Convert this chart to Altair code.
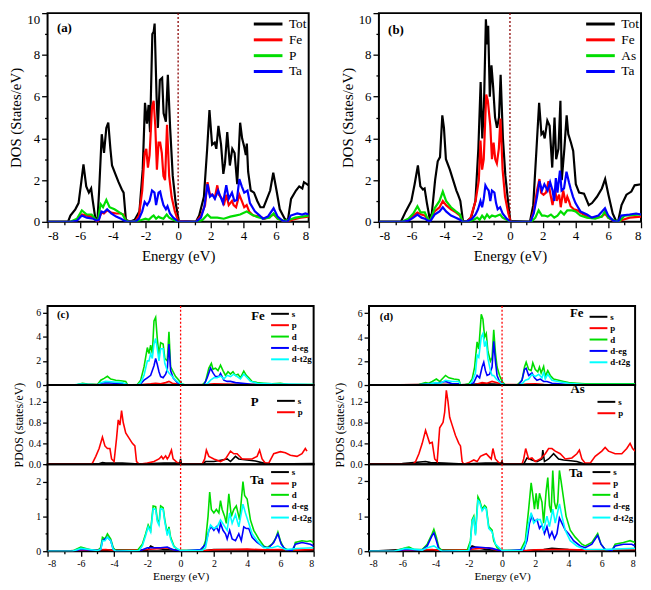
import altair as alt
import pandas as pd

FONT = "Liberation Serif"
BLACK, RED, GREEN, BLUE, CYAN = "#000000", "#ff0000", "#00dd00", "#0000ff", "#00ffff"

fermi = [0]

# ---------------- (a) total DOS, FeTaP ----------------
a_tot = [(-8,0),(-6.75,0),(-6.6,0.3),(-6.3,0.6),(-6.1,0.9),(-5.92,2.0),(-5.8,2.75),(-5.63,1.7),(-5.47,1.4),(-5.33,1.6),(-5.23,1.0),(-5.08,0.2),(-4.94,0.1),(-4.84,1.5),(-4.68,4.2),(-4.54,3.3),(-4.4,4.5),(-4.28,4.75),(-4.15,3.5),(-4.05,2.7),(-3.85,2.3),(-3.65,1.9),(-3.45,1.55),(-3.34,1.4),(-3.2,0.1),(-2.96,0),(-2.66,0.1),(-2.37,0.5),(-2.17,2.5),(-2.03,5.7),(-1.91,4.7),(-1.81,5.6),(-1.72,4.3),(-1.58,9.0),(-1.5,9.1),(-1.44,9.5),(-1.32,6.0),(-1.24,4.5),(-1.12,6.8),(-0.98,6.9),(-0.89,5.2),(-0.75,4.8),(-0.63,7.05),(-0.49,4.5),(-0.33,2.2),(-0.15,0.9),(0.04,0.05),(1.09,0),(1.29,0.3),(1.58,1.2),(1.78,3.5),(1.92,5.35),(2.08,3.7),(2.24,3.8),(2.34,3.5),(2.47,4.6),(2.63,3.7),(2.77,2.3),(2.87,2.8),(3.01,4.3),(3.17,2.7),(3.32,3.5),(3.46,3.3),(3.62,1.8),(3.8,4.75),(3.92,4.0),(4.05,3.6),(4.15,3.2),(4.21,3.75),(4.29,2.4),(4.45,1.5),(4.65,1.4),(4.85,1.0),(5.04,0.7),(5.24,0.7),(5.44,1.1),(5.64,1.5),(5.83,2.35),(6.03,1.5),(6.23,0.6),(6.53,0.15),(6.72,0.05),(6.92,1.1),(7.22,1.5),(7.42,1.7),(7.61,1.6),(7.71,1.9),(8.0,1.75)]
a_fe = [(-8,0),(-6.6,0),(-6.2,0.1),(-5.9,0.35),(-5.6,0.3),(-5.3,0.25),(-5.0,0.05),(-4.9,0.05),(-4.7,0.45),(-4.55,0.4),(-4.35,0.55),(-4.1,0.45),(-3.8,0.4),(-3.5,0.4),(-3.35,0.35),(-3.2,0.05),(-3.0,0),(-2.6,0.05),(-2.4,0.3),(-2.2,1.5),(-2.05,3.3),(-1.95,3.5),(-1.85,2.6),(-1.75,3.2),(-1.6,5.5),(-1.5,5.8),(-1.4,4.6),(-1.3,2.5),(-1.2,3.8),(-1.1,3.8),(-1.0,3.3),(-0.9,2.2),(-0.8,2.0),(-0.68,4.65),(-0.55,2.2),(-0.4,1.2),(-0.2,0.5),(0,0.05),(1.1,0),(1.4,0.3),(1.65,0.8),(1.8,1.9),(1.95,1.3),(2.1,1.3),(2.25,1.15),(2.4,1.75),(2.5,1.3),(2.7,1.1),(2.8,0.8),(2.95,1.3),(3.1,0.8),(3.3,1.0),(3.4,0.8),(3.55,0.7),(3.75,1.3),(3.9,1.0),(4.05,0.7),(4.2,0.8),(4.35,0.5),(4.6,0.3),(5.0,0.25),(5.3,0.15),(5.6,0.25),(5.85,0.35),(6.1,0.15),(6.4,0.05),(6.7,0),(7.0,0.1),(7.5,0.2),(8,0.25)]
a_p = [(-8,0),(-6.6,0),(-6.2,0.15),(-5.9,0.55),(-5.6,0.35),(-5.3,0.35),(-5.05,0.1),(-4.9,0.1),(-4.75,0.85),(-4.6,0.7),(-4.4,1.05),(-4.2,0.7),(-3.9,0.6),(-3.6,0.45),(-3.4,0.35),(-3.2,0.05),(-3.0,0),(-2.5,0.03),(-2.2,0.1),(-2.0,0.15),(-1.8,0.1),(-1.6,0.25),(-1.5,0.3),(-1.35,0.15),(-1.2,0.25),(-1.1,0.2),(-0.9,0.15),(-0.7,0.35),(-0.55,0.2),(-0.3,0.1),(0,0),(1.2,0),(1.5,0.1),(1.8,0.35),(2.0,0.2),(2.4,0.2),(2.8,0.15),(3.2,0.25),(3.5,0.3),(3.8,0.35),(4.2,0.5),(4.5,0.35),(4.8,0.25),(5.2,0.15),(5.6,0.2),(5.85,0.4),(6.1,0.15),(6.5,0.05),(6.8,0.1),(7.2,0.2),(8,0.3)]
a_ta = [(-8,0),(-6.6,0),(-6.2,0.05),(-5.9,0.3),(-5.6,0.2),(-5.2,0.15),(-5.0,0.05),(-4.85,0.1),(-4.7,0.5),(-4.55,0.45),(-4.35,0.6),(-4.1,0.4),(-3.8,0.25),(-3.5,0.15),(-3.3,0.05),(-3.1,0),(-2.6,0.02),(-2.4,0.15),(-2.2,0.5),(-2.05,0.95),(-1.9,0.8),(-1.75,1.0),(-1.6,1.5),(-1.45,1.4),(-1.35,0.8),(-1.2,1.4),(-1.1,1.45),(-1.0,1.1),(-0.9,0.8),(-0.75,0.6),(-0.65,0.75),(-0.5,0.4),(-0.3,0.2),(0,0.02),(1.1,0),(1.4,0.2),(1.6,0.7),(1.8,1.8),(1.95,1.2),(2.1,1.3),(2.25,1.1),(2.45,1.5),(2.6,1.2),(2.75,0.9),(2.95,1.75),(3.1,1.1),(3.3,1.4),(3.45,1.0),(3.6,1.05),(3.75,2.05),(3.9,1.7),(4.05,1.4),(4.25,1.5),(4.4,0.9),(4.7,0.5),(5.0,0.3),(5.2,0.15),(5.5,0.25),(5.85,0.65),(6.1,0.25),(6.4,0.05),(6.7,0),(6.9,0.3),(7.3,0.4),(7.6,0.35),(7.8,0.4),(8,0.35)]

# ---------------- (b) total DOS, FeTaAs ----------------
b_tot = [(-8,0),(-6.66,0),(-6.36,0.5),(-6.02,1.0),(-5.82,1.8),(-5.62,2.7),(-5.47,1.7),(-5.31,1.55),(-5.21,1.6),(-5.07,0.9),(-4.91,0.2),(-4.77,0.4),(-4.57,2.0),(-4.41,2.9),(-4.27,3.1),(-4.13,5.1),(-4.03,4.5),(-3.91,3.0),(-3.67,2.5),(-3.47,2.0),(-3.27,1.5),(-3.17,1.3),(-3.03,1.0),(-2.87,0.05),(-2.67,0),(-2.37,0.2),(-2.11,1.0),(-1.93,3.5),(-1.79,6.7),(-1.69,4.0),(-1.59,5.5),(-1.47,9.7),(-1.39,8.5),(-1.33,9.4),(-1.23,6.0),(-1.13,7.5),(-1.03,6.5),(-0.91,5.0),(-0.79,4.5),(-0.67,5.0),(-0.57,7.05),(-0.43,4.0),(-0.28,2.2),(-0.12,1.0),(0.02,0.05),(1.22,0),(1.42,0.8),(1.62,3.5),(1.78,5.7),(1.92,4.2),(2.02,4.3),(2.12,4.0),(2.28,4.85),(2.42,4.6),(2.58,2.6),(2.72,5.0),(2.82,3.0),(2.96,3.5),(3.08,5.8),(3.16,2.0),(3.32,3.5),(3.46,5.1),(3.56,4.2),(3.72,3.8),(3.86,3.4),(4.02,1.8),(4.22,1.4),(4.52,1.35),(4.81,0.8),(5.01,0.9),(5.31,1.2),(5.61,1.6),(5.81,2.05),(6.01,1.3),(6.27,0.4),(6.47,0.05),(6.61,0.05),(6.81,0.8),(7.11,1.3),(7.41,1.45),(7.61,1.75),(8,1.8)]
b_fe = [(-8,0),(-6.6,0),(-6.2,0.1),(-5.9,0.3),(-5.65,0.45),(-5.4,0.35),(-5.2,0.3),(-5.0,0.1),(-4.85,0.1),(-4.6,0.5),(-4.3,0.7),(-4.1,1.0),(-3.9,0.8),(-3.6,0.6),(-3.3,0.45),(-3.05,0.3),(-2.9,0),(-2.6,0.02),(-2.4,0.2),(-2.1,1.0),(-1.9,2.0),(-1.8,3.9),(-1.7,2.5),(-1.6,3.0),(-1.45,6.1),(-1.35,5.8),(-1.2,4.6),(-1.1,3.0),(-1.0,3.8),(-0.9,3.0),(-0.8,2.8),(-0.68,3.5),(-0.58,4.95),(-0.45,2.5),(-0.3,1.2),(-0.1,0.4),(0.05,0),(1.25,0),(1.45,0.5),(1.65,1.5),(1.8,2.05),(1.9,1.4),(2.05,1.3),(2.2,1.4),(2.35,1.95),(2.45,1.4),(2.6,0.8),(2.75,1.6),(2.85,1.0),(3.0,1.3),(3.1,0.7),(3.25,1.5),(3.4,0.9),(3.5,1.2),(3.6,1.0),(3.7,0.75),(3.9,0.6),(4.1,0.55),(4.4,0.4),(4.8,0.2),(5.2,0.2),(5.6,0.25),(5.8,0.4),(6.0,0.2),(6.3,0.05),(6.6,0.02),(6.9,0.1),(7.3,0.2),(8,0.25)]
b_as = [(-8,0),(-6.6,0),(-6.2,0.15),(-5.9,0.4),(-5.65,0.75),(-5.45,0.45),(-5.2,0.45),(-5.0,0.1),(-4.85,0.1),(-4.6,0.65),(-4.3,1.0),(-4.1,1.45),(-3.9,1.0),(-3.6,0.7),(-3.3,0.5),(-3.05,0.35),(-2.9,0),(-2.5,0.02),(-2.2,0.1),(-2.0,0.2),(-1.85,0.1),(-1.7,0.3),(-1.55,0.15),(-1.4,0.35),(-1.25,0.2),(-1.1,0.3),(-0.9,0.25),(-0.75,0.3),(-0.6,0.35),(-0.45,0.2),(-0.2,0.1),(0.05,0),(1.3,0),(1.55,0.2),(1.75,0.55),(1.95,0.3),(2.1,0.3),(2.3,0.25),(2.5,0.35),(2.7,0.2),(2.9,0.3),(3.1,0.5),(3.3,0.35),(3.5,0.55),(3.8,0.55),(4.0,0.5),(4.3,0.3),(4.7,0.2),(5.2,0.15),(5.6,0.25),(5.8,0.5),(6.0,0.2),(6.4,0.05),(6.7,0.05),(7.0,0.3),(8,0.35)]
b_ta = [(-8,0),(-6.6,0),(-6.2,0.05),(-5.9,0.2),(-5.65,0.35),(-5.4,0.2),(-5.2,0.15),(-5.0,0.05),(-4.85,0.05),(-4.6,0.35),(-4.3,0.5),(-4.1,0.7),(-3.9,0.5),(-3.6,0.3),(-3.3,0.2),(-3.05,0.1),(-2.9,0),(-2.6,0.02),(-2.3,0.15),(-2.1,0.35),(-1.95,0.6),(-1.8,1.0),(-1.7,0.7),(-1.6,1.1),(-1.5,1.75),(-1.4,1.6),(-1.3,1.5),(-1.2,1.0),(-1.1,1.5),(-0.95,1.4),(-0.85,0.9),(-0.75,0.6),(-0.6,0.7),(-0.45,0.4),(-0.2,0.15),(0.05,0),(1.25,0),(1.45,0.4),(1.65,1.2),(1.8,1.95),(1.95,1.5),(2.1,1.8),(2.3,1.5),(2.45,1.9),(2.6,1.5),(2.7,1.0),(2.8,2.1),(2.9,1.4),(3.05,2.45),(3.15,1.5),(3.3,1.6),(3.45,2.4),(3.6,1.9),(3.7,1.6),(3.85,1.2),(4.0,0.9),(4.3,0.5),(4.7,0.35),(5.0,0.2),(5.4,0.3),(5.8,0.65),(6.0,0.3),(6.3,0.05),(6.6,0),(6.8,0.3),(7.3,0.35),(7.7,0.4),(8,0.35)]

# ---------------- (c) PDOS FeTaP ----------------
c_fe_s = [(-8,0.02),(-5,0.03),(-3,0.02),(-1.5,0.05),(-0.5,0.05),(-0.05,0.05),(0,0.35),(0.05,0.02),(2,0.05),(5,0.03),(8,0.02)]
c_fe_p = [(-8,0),(-4.5,0.05),(-3,0.01),(-2.4,0.03),(-1.8,0.1),(-1.5,0.15),(-1.2,0.1),(-0.9,0.2),(-0.7,0.3),(-0.5,0.15),(0,0.05),(1.5,0.03),(2.0,0.1),(2.5,0.08),(3.5,0.05),(5,0.03),(8,0.03)]
c_fe_d = [(-8,0),(-6.5,0),(-6.2,0.05),(-5.9,0.15),(-5.6,0.08),(-5.0,0.05),(-4.8,0.4),(-4.6,0.55),(-4.4,0.72),(-4.2,0.5),(-3.9,0.4),(-3.6,0.35),(-3.3,0.3),(-3.2,0.05),(-3.0,0.02),(-2.6,0.05),(-2.4,0.4),(-2.2,1.5),(-2.0,3.1),(-1.9,2.6),(-1.8,3.3),(-1.7,2.6),(-1.6,5.3),(-1.5,5.6),(-1.4,3.8),(-1.3,2.5),(-1.2,3.5),(-1.05,3.4),(-0.95,2.2),(-0.8,2.0),(-0.7,4.4),(-0.6,1.5),(-0.45,1.1),(-0.3,0.7),(-0.1,0.4),(0.05,0.1),(0.3,0),(1.3,0),(1.5,0.3),(1.7,1.4),(1.85,1.8),(1.95,1.3),(2.1,1.4),(2.25,1.2),(2.4,1.65),(2.55,1.2),(2.7,0.8),(2.85,1.1),(3.0,0.9),(3.15,1.1),(3.3,0.8),(3.45,0.9),(3.6,0.6),(3.8,1.15),(3.95,0.8),(4.1,0.6),(4.3,0.3),(4.6,0.2),(5.0,0.15),(5.5,0.1),(6.0,0.15),(6.5,0.05),(7,0.05),(8,0.05)]
c_fe_eg = [(-8,0),(-6.5,0),(-6,0.05),(-5.0,0.02),(-4.8,0.15),(-4.5,0.2),(-4.0,0.15),(-3.3,0.1),(-3.2,0),(-2.6,0),(-2.4,0.1),(-2.2,0.4),(-2.0,0.6),(-1.8,0.8),(-1.6,1.6),(-1.5,2.2),(-1.4,1.7),(-1.3,1.1),(-1.2,0.7),(-1.05,0.6),(-0.9,0.9),(-0.8,1.3),(-0.7,3.4),(-0.6,1.2),(-0.45,0.6),(-0.2,0.2),(0,0.05),(0.3,0),(1.4,0),(1.6,0.6),(1.8,1.4),(1.95,1.0),(2.1,0.7),(2.3,0.7),(2.4,0.95),(2.6,0.4),(2.8,0.3),(3.0,0.3),(3.3,0.2),(4.0,0.1),(4.3,0.05),(8,0.02)]
c_fe_t2g = [(-8,0),(-6.5,0),(-6,0.08),(-5.0,0.02),(-4.8,0.2),(-4.5,0.3),(-4.0,0.25),(-3.5,0.2),(-3.2,0.02),(-2.6,0),(-2.4,0.2),(-2.2,0.8),(-2.0,2.0),(-1.9,2.0),(-1.8,2.6),(-1.7,2.2),(-1.6,3.4),(-1.5,3.85),(-1.4,3.0),(-1.3,2.0),(-1.2,3.0),(-1.05,3.0),(-0.95,1.8),(-0.8,1.2),(-0.7,1.0),(-0.5,0.7),(-0.3,0.4),(0,0.1),(0.3,0),(1.4,0),(1.6,0.1),(1.8,0.4),(2.0,0.6),(2.2,0.6),(2.4,0.75),(2.6,0.5),(2.8,0.8),(3.0,0.7),(3.2,0.9),(3.4,0.7),(3.6,0.5),(3.8,0.9),(4.0,0.6),(4.2,0.3),(4.6,0.15),(5.5,0.1),(8,0.05)]
c_p_s = [(-8,0),(-5,0),(-4.7,0.03),(-4.5,0.02),(-3.5,0.02),(-2.5,0),(-1,0.02),(-0.05,0.02),(0,0.1),(0.05,0),(1.3,0),(1.5,0.05),(2.0,0.05),(2.5,0.08),(2.8,0.1),(3.0,0.05),(3.3,0.15),(3.5,0.1),(4.0,0.08),(4.5,0.06),(5.0,0.02),(5.5,0),(8,0.01)]
c_p_p = [(-8,0),(-5.4,0),(-5.3,0.02),(-5.1,0.15),(-4.9,0.3),(-4.7,0.52),(-4.55,0.35),(-4.4,0.3),(-4.25,0.3),(-4.15,0.1),(-4.0,0.05),(-3.85,0.5),(-3.75,0.85),(-3.65,0.75),(-3.55,1.03),(-3.45,0.8),(-3.3,0.6),(-3.1,0.5),(-2.9,0.4),(-2.75,0.35),(-2.65,0.05),(-2.5,0),(-2.0,0.02),(-1.6,0.05),(-1.3,0.1),(-1.15,0.15),(-1.05,0.1),(-0.9,0.16),(-0.8,0.1),(-0.7,0.15),(-0.55,0.27),(-0.45,0.1),(-0.2,0.03),(0,0),(1.3,0),(1.45,0.1),(1.55,0.27),(1.7,0.15),(2.0,0.1),(2.4,0.05),(2.7,0.1),(3.0,0.25),(3.2,0.2),(3.4,0.2),(3.7,0.1),(4.0,0.1),(4.3,0.1),(4.6,0.15),(4.75,0.27),(4.9,0.1),(5.1,0.02),(5.3,0.02),(5.6,0.2),(6.0,0.24),(6.3,0.22),(6.6,0.17),(7.0,0.15),(7.3,0.2),(7.5,0.3),(7.6,0.25)]
c_ta_s = [(-8,0),(-6,0.02),(-4.5,0.03),(-2.0,0.03),(-1.8,0.15),(-1.6,0.1),(-1.0,0.05),(-0.5,0.05),(0,0.02),(1.5,0.02),(2,0.05),(3,0.05),(4,0.04),(6,0.02),(8,0.01)]
c_ta_p = [(-8,0),(-6,0.02),(-4.5,0.05),(-4,0.02),(-2,0.05),(-1.2,0.08),(-0.8,0.1),(-0.5,0.05),(0,0.01),(1.5,0.02),(2,0.04),(3,0.05),(4,0.06),(5,0.04),(6,0.05),(7,0.03),(8,0.05)]
c_ta_d = [(-8,0),(-6.5,0),(-6.3,0.05),(-6.0,0.12),(-5.7,0.08),(-5.3,0.03),(-5.0,0.02),(-4.8,0.1),(-4.7,0.4),(-4.55,0.35),(-4.4,0.5),(-4.2,0.35),(-4.05,0.1),(-3.9,0.02),(-2.6,0.02),(-2.3,0.2),(-2.1,0.5),(-1.95,0.75),(-1.8,0.6),(-1.65,1.3),(-1.5,1.28),(-1.4,0.9),(-1.3,0.8),(-1.2,1.3),(-1.05,1.25),(-0.95,0.9),(-0.8,0.5),(-0.7,0.7),(-0.6,0.4),(-0.4,0.15),(-0.2,0.05),(0,0.02),(1.3,0.02),(1.5,0.3),(1.65,1.0),(1.75,1.7),(1.85,1.2),(2.0,1.1),(2.15,1.2),(2.3,1.1),(2.4,1.45),(2.5,1.2),(2.65,1.0),(2.75,0.8),(2.9,1.65),(3.05,1.0),(3.2,1.2),(3.35,1.3),(3.45,1.1),(3.55,0.9),(3.75,2.0),(3.85,1.6),(4.0,1.5),(4.1,1.2),(4.2,0.9),(4.4,0.6),(4.7,0.35),(5.0,0.15),(5.2,0.1),(5.5,0.2),(5.7,0.35),(5.85,0.55),(6.0,0.3),(6.2,0.1),(6.5,0.02),(6.8,0.05),(6.9,0.25),(7.3,0.3),(7.6,0.28),(7.8,0.3),(8,0.25)]
c_ta_eg = [(-8,0),(-6.5,0),(-6,0.05),(-5,0.02),(-4.8,0.05),(-4.7,0.3),(-4.4,0.4),(-4.2,0.3),(-4.05,0.05),(-3.9,0),(-2.4,0.02),(-2.0,0.1),(-1.6,0.1),(-1.2,0.1),(-0.8,0.12),(-0.5,0.05),(0,0),(1.2,0.05),(1.5,0.2),(1.7,0.6),(1.85,0.7),(2.0,0.6),(2.15,0.7),(2.3,0.55),(2.4,0.8),(2.55,0.6),(2.7,0.5),(2.8,0.35),(2.95,0.6),(3.1,0.35),(3.3,0.3),(3.5,0.5),(3.65,0.3),(3.8,0.7),(3.95,0.65),(4.1,0.65),(4.3,0.4),(4.6,0.25),(5.0,0.12),(5.3,0.1),(5.6,0.25),(5.85,0.5),(6.05,0.2),(6.3,0.05),(6.7,0.02),(6.9,0.2),(7.3,0.25),(7.8,0.2),(8,0.15)]
c_ta_t2g = [(-8,0),(-6.5,0),(-6.0,0.08),(-5.0,0.02),(-4.8,0.05),(-4.7,0.3),(-4.55,0.3),(-4.4,0.4),(-4.2,0.3),(-4.05,0.05),(-3.9,0),(-2.5,0.02),(-2.3,0.15),(-2.1,0.45),(-1.95,0.7),(-1.8,0.55),(-1.65,1.22),(-1.5,1.2),(-1.4,0.85),(-1.3,0.75),(-1.2,1.22),(-1.05,1.2),(-0.95,0.85),(-0.8,0.45),(-0.7,0.65),(-0.6,0.35),(-0.4,0.12),(0,0.02),(1.3,0.02),(1.5,0.1),(1.7,0.6),(1.8,0.75),(2.0,0.65),(2.2,0.7),(2.4,0.9),(2.6,0.75),(2.8,0.6),(2.95,1.1),(3.1,0.8),(3.3,1.05),(3.5,0.7),(3.75,1.35),(3.9,1.1),(4.1,0.8),(4.3,0.5),(4.6,0.3),(5.0,0.1),(5.5,0.1),(5.85,0.15),(6.3,0.05),(7,0.08),(8,0.1)]

# ---------------- (d) PDOS FeTaAs ----------------
d_fe_s = [(-8,0.02),(-6,0.03),(-4.5,0.05),(-3.4,0.05),(-2.5,0.02),(-1.2,0.1),(-0.5,0.08),(-0.05,0.05),(0,0.3),(0.05,0.02),(1.5,0.05),(2,0.05),(3,0.03),(5,0.02),(8,0.02)]
d_fe_p = [(-8,0),(-4.5,0.05),(-3.4,0.05),(-2.5,0.02),(-1.6,0.05),(-1.2,0.2),(-0.9,0.15),(-0.6,0.3),(-0.3,0.2),(0,0.05),(1.2,0.02),(1.5,0.08),(2.0,0.1),(2.5,0.05),(4,0.03),(8,0.02)]
d_fe_d = [(-8,0),(-6.5,0),(-6,0.02),(-5.0,0.05),(-4.6,0.2),(-4.4,0.15),(-4.2,0.3),(-3.95,0.5),(-3.75,0.3),(-3.4,0.8),(-3.2,0.6),(-2.9,0.5),(-2.6,0.45),(-2.5,0.05),(-2.3,0),(-2.0,0.1),(-1.8,0.5),(-1.65,1.5),(-1.5,3.6),(-1.4,3.0),(-1.25,5.9),(-1.15,5.5),(-1.05,4.0),(-0.95,4.3),(-0.85,2.8),(-0.7,2.0),(-0.6,2.3),(-0.5,4.6),(-0.4,2.7),(-0.3,1.5),(-0.15,0.8),(0,0.3),(0.2,0),(0.9,0),(1.2,0.4),(1.35,1.5),(1.45,1.9),(1.6,1.3),(1.75,1.2),(1.85,1.85),(2.0,1.3),(2.15,1.1),(2.25,1.5),(2.35,1.0),(2.5,1.55),(2.6,0.7),(2.75,1.2),(2.9,0.8),(3.1,0.5),(3.4,0.4),(3.7,0.3),(4.0,0.2),(4.5,0.15),(5.0,0.1),(6.0,0.1),(7,0.1),(8,0.1)]
d_fe_eg = [(-8,0),(-6.5,0),(-5,0.02),(-4.4,0.1),(-3.9,0.15),(-3.4,0.3),(-3.0,0.1),(-2.6,0.1),(-2.5,0),(-2.0,0),(-1.7,0.2),(-1.5,0.8),(-1.35,0.6),(-1.2,1.5),(-1.1,1.9),(-1.0,1.2),(-0.9,0.8),(-0.75,0.9),(-0.6,1.5),(-0.5,3.65),(-0.4,2.0),(-0.3,0.8),(-0.15,0.3),(0,0.1),(0.2,0),(1.0,0.02),(1.2,0.4),(1.35,1.3),(1.45,1.4),(1.6,0.8),(1.8,1.0),(1.95,0.6),(2.1,0.4),(2.3,0.5),(2.5,0.3),(2.7,0.3),(3.0,0.15),(4.0,0.05),(8,0.02)]
d_fe_t2g = [(-8,0),(-6.5,0),(-5,0.02),(-4.3,0.1),(-4.0,0.2),(-3.7,0.15),(-3.4,0.4),(-3.0,0.3),(-2.6,0.3),(-2.5,0.02),(-2.0,0),(-1.8,0.3),(-1.6,1.0),(-1.5,2.5),(-1.4,2.3),(-1.25,4.0),(-1.15,4.3),(-1.05,3.2),(-0.95,3.7),(-0.85,2.2),(-0.7,1.2),(-0.6,0.8),(-0.5,0.8),(-0.35,0.5),(-0.1,0.2),(0,0.1),(0.2,0),(1.0,0),(1.2,0.1),(1.4,0.4),(1.6,0.5),(1.8,0.9),(2.0,0.7),(2.2,0.9),(2.4,0.6),(2.5,1.1),(2.6,0.5),(2.75,0.9),(3.0,0.4),(3.5,0.25),(4,0.15),(5,0.05),(8,0.05)]
d_as_s = [(-8,0),(-6,0.01),(-4.6,0.05),(-4.3,0.03),(-3.5,0.02),(-2.3,0),(-1,0.02),(-0.05,0.02),(0,0.06),(0.05,0),(1.3,0),(1.5,0.12),(1.8,0.08),(2.1,0.05),(2.4,0.1),(2.45,0.27),(2.55,0.05),(2.8,0.1),(3.1,0.2),(3.4,0.1),(3.7,0.08),(4.0,0.07),(4.5,0.05),(5,0),(8,0)]
d_as_p = [(-8,0),(-5.35,0),(-5.2,0.05),(-5.0,0.2),(-4.8,0.4),(-4.6,0.65),(-4.5,0.55),(-4.35,0.4),(-4.2,0.42),(-4.05,0.1),(-3.9,0.05),(-3.75,0.7),(-3.55,0.8),(-3.45,1.0),(-3.35,1.42),(-3.25,1.2),(-3.15,0.9),(-3.0,0.75),(-2.8,0.55),(-2.6,0.4),(-2.5,0.35),(-2.4,0.05),(-2.3,0),(-2.0,0.03),(-1.7,0.08),(-1.5,0.05),(-1.3,0.15),(-1.1,0.18),(-0.95,0.2),(-0.8,0.15),(-0.65,0.1),(-0.55,0.3),(-0.4,0.1),(-0.2,0.03),(0,0),(1.2,0),(1.3,0.1),(1.42,0.3),(1.6,0.1),(1.8,0.12),(2.0,0.05),(2.3,0.1),(2.6,0.2),(2.8,0.3),(3.0,0.3),(3.2,0.25),(3.5,0.2),(3.8,0.1),(4.2,0.12),(4.5,0.2),(4.65,0.27),(4.8,0.1),(5.0,0.02),(5.3,0.02),(5.6,0.15),(6.0,0.25),(6.2,0.32),(6.4,0.25),(6.8,0.2),(7.2,0.2),(7.5,0.3),(7.7,0.4),(7.85,0.3),(8.0,0.25)]
d_ta_s = [(-8,0),(-6,0.05),(-4.5,0.03),(-2.0,0.03),(-1.8,0.15),(-1.5,0.1),(-1.0,0.05),(0,0.02),(1.5,0.02),(2.5,0.05),(3,0.08),(4,0.05),(6,0.02),(8,0.01)]
d_ta_p = [(-8,0),(-6,0.02),(-4.2,0.05),(-3.8,0.02),(-2,0.05),(-1.3,0.08),(-0.8,0.1),(-0.5,0.05),(0,0.01),(1.5,0.02),(2,0.04),(3,0.05),(4,0.05),(5,0.03),(6,0.04),(8,0.05)]
d_ta_d = [(-8,0),(-6.5,0),(-6.3,0.03),(-5.8,0.1),(-5.6,0.12),(-5.3,0.05),(-4.8,0.05),(-4.5,0.2),(-4.2,0.5),(-4.1,0.62),(-3.95,0.4),(-3.8,0.1),(-3.6,0.02),(-2.1,0.02),(-1.9,0.3),(-1.8,0.9),(-1.7,1.0),(-1.6,0.5),(-1.45,1.55),(-1.35,1.45),(-1.2,1.2),(-1.05,1.3),(-0.95,1.25),(-0.8,0.7),(-0.6,0.6),(-0.5,0.3),(-0.3,0.1),(0,0.02),(1.1,0.02),(1.4,0.3),(1.6,1.2),(1.75,1.95),(1.85,1.6),(1.95,1.2),(2.05,1.65),(2.15,1.2),(2.25,1.65),(2.4,1.4),(2.5,0.8),(2.65,1.7),(2.75,2.1),(2.85,1.3),(2.95,1.1),(3.05,2.3),(3.15,1.4),(3.25,1.2),(3.35,1.4),(3.45,2.3),(3.55,2.0),(3.7,1.5),(3.85,1.0),(4.1,0.6),(4.4,0.4),(4.8,0.2),(5.0,0.15),(5.4,0.25),(5.75,0.5),(5.95,0.2),(6.2,0.05),(6.6,0.02),(6.8,0.2),(7.3,0.25),(7.7,0.3),(8,0.25)]
d_ta_eg = [(-8,0),(-6.5,0),(-5.8,0.05),(-4.8,0.03),(-4.5,0.15),(-4.2,0.45),(-4.1,0.52),(-3.95,0.3),(-3.8,0.05),(-3.6,0),(-2.0,0.02),(-1.8,0.1),(-1.5,0.12),(-1.0,0.1),(-0.6,0.08),(0,0),(1.3,0.05),(1.5,0.3),(1.65,0.8),(1.8,1.0),(1.95,0.85),(2.1,0.9),(2.25,0.65),(2.4,0.75),(2.55,0.5),(2.7,0.7),(2.85,0.4),(3.0,0.55),(3.15,0.35),(3.3,0.5),(3.45,0.95),(3.6,0.8),(3.8,0.6),(4.0,0.5),(4.3,0.3),(4.7,0.15),(5.0,0.1),(5.4,0.2),(5.75,0.45),(5.95,0.2),(6.2,0.05),(6.6,0.02),(6.8,0.15),(7.3,0.2),(7.8,0.2),(8,0.15)]
d_ta_t2g = [(-8,0),(-6.5,0),(-5.8,0.08),(-4.8,0.03),(-4.5,0.1),(-4.1,0.15),(-3.8,0.05),(-3.6,0),(-2.0,0.02),(-1.9,0.25),(-1.8,0.85),(-1.7,0.95),(-1.6,0.45),(-1.45,1.45),(-1.35,1.4),(-1.2,1.15),(-1.05,1.25),(-0.95,1.2),(-0.8,0.65),(-0.6,0.55),(-0.4,0.2),(0,0.02),(1.2,0.02),(1.4,0.2),(1.6,0.8),(1.75,1.1),(1.9,0.8),(2.1,0.9),(2.3,0.9),(2.5,0.6),(2.7,1.0),(2.85,0.7),(3.05,1.2),(3.2,0.8),(3.45,1.35),(3.6,1.0),(3.8,0.6),(4.1,0.3),(4.5,0.15),(5,0.05),(6,0.05),(8,0.08)]

# series names / colours
tot_names_a = ["Tot", "Fe", "P", "Ta"]
tot_names_b = ["Tot", "Fe", "As", "Ta"]
tot_colors = [BLACK, RED, GREEN, BLUE]
orb_names = ["s", "p", "d", "d-eg", "d-t2g"]
orb_colors = [BLACK, RED, GREEN, BLUE, CYAN]
sp_names = ["s", "p"]
sp_colors = [BLACK, RED]

# annotations: (E, value, text, fontsize)
notes_a = [(-6.97, 9.28, "(a)", 13)]
notes_b = [(-6.96, 9.2, "(b)", 13)]
notes_c_fe = [(-7.07, 5.8, "(c)", 11), (4.65, 5.7, "Fe", 13)]
notes_c_p = [(4.45, 1.19, "P", 13)]
notes_c_ta = [(4.59, 2.05, "Ta", 13)]
notes_d_fe = [(-6.95, 5.7, "(d)", 11), (4.49, 5.97, "Fe", 13)]
notes_d_as = [(4.55, 1.45, "As", 13)]
notes_d_ta = [(4.44, 2.24, "Ta", 13)]


def to_df(curves, names):
    rows = []
    for name, pts in zip(names, curves):
        for i, (e, v) in enumerate(pts):
            rows.append({"E": e, "v": v, "s": name, "i": i})
    return pd.DataFrame(rows)


def cond(test, yes, no):
    return {"condition": {"test": test, "value": yes}, "value": no}


def panel(curves, names, colors, notes, w, h, ydom, yvals, ylab, ymajor, ytitle,
          xon, big, legend, zero_color, lw, ytop=None):
    lab_fs = 13 if big else 10
    xt_fs = 15 if big else 11.5
    yt_fs = 15 if big else 12
    major = 6 if big else 5
    minor = 3 if big else 2.5
    if xon:
        xaxis = alt.Axis(values=list(range(-8, 9)),
                         labelExpr="datum.value % 2 == 0 ? '' + datum.value : ''",
                         tickSize=cond("datum.value % 2 == 0", major, minor),
                         title="Energy (eV)", labelFontSize=lab_fs, titleFontSize=xt_fs,
                         labelPadding=2, titlePadding=6 if big else 3,
                         titleFontWeight="normal", labelFont=FONT, titleFont=FONT)
    else:
        xaxis = None
    yargs = dict(values=yvals, labelExpr=ylab, title=ytitle,
                 tickSize=cond(ymajor, major, minor),
                 labelFontSize=lab_fs, titleFontSize=yt_fs,
                 labelPadding=2, titlePadding=3, titleFontWeight="normal",
                 labelFont=FONT, titleFont=FONT)
    if ytop is not None:
        yargs["labelBaseline"] = cond("datum.value == %s" % ytop, "top", "middle")
    X = alt.X("E:Q", scale=alt.Scale(domain=[-8, 8], nice=False, zero=False), axis=xaxis)
    Y = alt.Y("v:Q", scale=alt.Scale(domain=ydom, nice=False), axis=alt.Axis(**yargs))
    df = to_df(curves, names)
    lines = alt.Chart(df).mark_line(strokeWidth=lw, clip=True).encode(
        x=X, y=Y,
        color=alt.Color("s:N", scale=alt.Scale(domain=names, range=colors),
                        sort=names, legend=legend),
        order="i:Q",
    )
    rule = alt.Chart(pd.DataFrame({"E": fermi})).mark_rule(
        color=zero_color, strokeDash=[2, 2], strokeWidth=1.3).encode(x=X)
    ndf = pd.DataFrame([{"E": e, "v": v, "t": t, "fs": f} for e, v, t, f in notes])
    text = alt.Chart(ndf).mark_text(font=FONT, fontWeight="bold", align="center",
                                    baseline="middle", color="black").encode(
        x=X, y=Y, text="t:N", size=alt.Size("fs:Q", scale=None, legend=None))
    return alt.layer(lines, rule, text).properties(width=w, height=h)


def top_legend():
    return alt.Legend(title=None, orient="top-right", offset=0, padding=2,
                      symbolType="M-2,0L2,0", symbolSize=210, symbolStrokeWidth=3,
                      labelFont=FONT, labelFontSize=13.5, labelOffset=12, rowPadding=0,
                      labelColor="black")


def sub_legend(offset=1):
    return alt.Legend(title=None, orient="top-right", offset=offset, padding=1,
                      symbolType="M-1.8,0L1.8,0", symbolSize=100, symbolStrokeWidth=2,
                      labelFont=FONT, labelFontSize=9, labelFontWeight="bold",
                      labelOffset=6, rowPadding=0.5, labelColor="black")


even_lab = "datum.value % 2 == 0 ? '' + datum.value : ''"
even_major = "datum.value % 2 == 0"
int_lab = "datum.value % 1 == 0 ? '' + datum.value : ''"
int_major = "datum.value % 1 == 0"
p_lab = "round(datum.value * 10) % 4 == 0 ? format(datum.value, '.1f') : ''"
p_major = "round(datum.value * 10) % 4 == 0"
top_vals = list(range(0, 11))
fe_vals = list(range(0, 7))
p_vals = [round(0.2 * k, 1) for k in range(8)]
ta_vals = [0, 0.5, 1, 1.5, 2, 2.5]

DR = "#8b0000"
pa = panel([a_tot, a_fe, a_p, a_ta], tot_names_a, tot_colors, notes_a, 264, 211,
           [0, 10], top_vals, even_lab, even_major, "DOS (States/eV)", True, True,
           top_legend(), DR, 2.2, ytop=10)
pb = panel([b_tot, b_fe, b_as, b_ta], tot_names_b, tot_colors, notes_b, 265, 211,
           [0, 10], top_vals, even_lab, even_major, "DOS (States/eV)", True, True,
           top_legend(), DR, 2.2, ytop=10)

W, H1, H2, H3 = 269, 80, 80, 88
c1 = panel([c_fe_s, c_fe_p, c_fe_d, c_fe_eg, c_fe_t2g], orb_names, orb_colors, notes_c_fe,
           W, H1, [0, 6.55], fe_vals, even_lab, even_major, None, False, False,
           sub_legend(1), RED, 1.6)
c2 = panel([c_p_s, c_p_p], sp_names, sp_colors, notes_c_p,
           W, H2, [0, 1.52], p_vals, p_lab, p_major, "PDOS (states/eV)", False, False,
           sub_legend(9), RED, 1.6)
c3 = panel([c_ta_s, c_ta_p, c_ta_d, c_ta_eg, c_ta_t2g], orb_names, orb_colors, notes_c_ta,
           W, H3, [0, 2.5], ta_vals, int_lab, int_major, None, True, False,
           sub_legend(1), RED, 1.6)
d1 = panel([d_fe_s, d_fe_p, d_fe_d, d_fe_eg, d_fe_t2g], orb_names, orb_colors, notes_d_fe,
           W, H1, [0, 6.6], fe_vals, even_lab, even_major, None, False, False,
           sub_legend(4), RED, 1.6)
d2 = panel([d_as_s, d_as_p], sp_names, sp_colors, notes_d_as,
           W, H2, [0, 1.52], p_vals, p_lab, p_major, "PDOS (states/eV)", False, False,
           sub_legend(10), RED, 1.6)
d3 = panel([d_ta_s, d_ta_p, d_ta_d, d_ta_eg, d_ta_t2g], orb_names, orb_colors, notes_d_ta,
           W, H3, [0, 2.48], ta_vals, int_lab, int_major, None, True, False,
           sub_legend(1), RED, 1.6)

cstack = alt.vconcat(c1, c2, c3, spacing=0, bounds="flush").resolve_scale(color="independent")
dstack = alt.vconcat(d1, d2, d3, spacing=0, bounds="flush").resolve_scale(color="independent")
top = alt.hconcat(pa, pb, spacing=29).resolve_scale(color="independent")
bottom = alt.hconcat(cstack, dstack, spacing=17).resolve_scale(color="independent")

chart = alt.vconcat(top, bottom, spacing=40).resolve_scale(color="independent").properties(
    padding={"left": 0, "top": 0, "right": 0, "bottom": 0},
    background="white",
).configure_view(stroke="black", strokeWidth=2).configure_axis(
    grid=False, domain=False, tickColor="black", labelColor="black", titleColor="black",
    tickWidth=1.3,
)

chart.save("out.html", embed_options={"renderer": "svg", "actions": False})
